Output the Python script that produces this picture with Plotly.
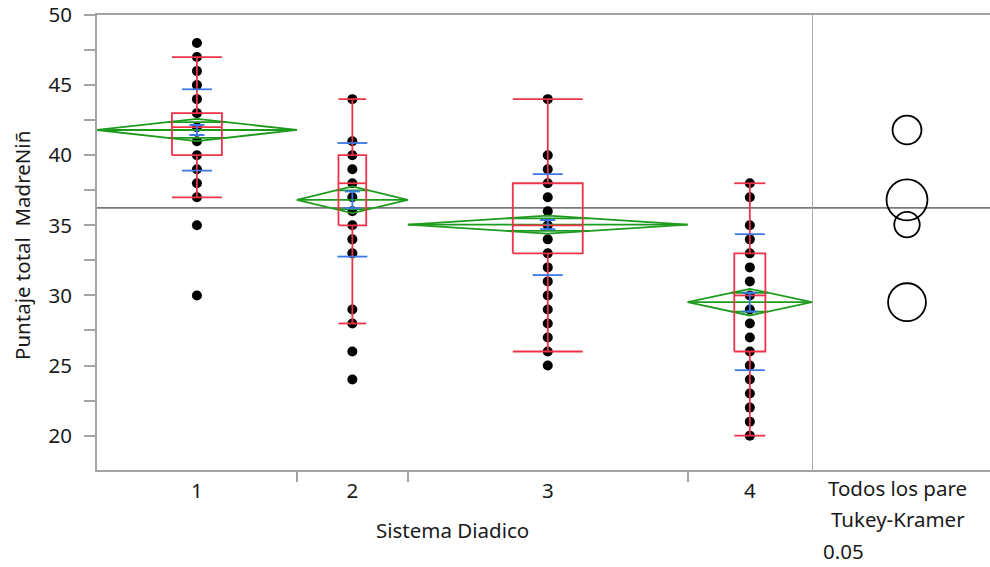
import plotly.graph_objects as go

# ---------------- data ----------------
groups = ["1", "2", "3", "4"]
group_n = [45, 25, 63, 28]          # relative group sizes (widths of the group cells)

g1_values = [48, 47, 46, 45, 44, 43, 42, 41, 40, 39, 38, 37, 35, 30]
g2_values = [44, 41, 40, 39, 38, 37, 36, 35, 34, 33, 29, 28, 26, 24]
g3_values = [44, 40, 39, 38, 37, 36, 35, 34, 33, 32, 31, 30, 29, 28, 27, 26, 25]
g4_values = [38, 37, 35, 34, 33, 32, 31, 30, 29, 28, 27, 26, 25, 24, 23, 22, 21, 20]

box_q1 = [40, 35, 33, 26]
box_median = [42, 38, 35, 30]
box_q3 = [43, 40, 38, 33]
whisker_lo = [37, 28, 26, 20]
whisker_hi = [47, 44, 44, 38]

group_mean = [41.8, 36.82, 35.05, 29.52]
mean_ci = [0.79, 0.95, 0.64, 0.95]
group_sd = [2.9, 4.05, 3.6, 4.85]
group_se = [0.36, 0.6, 0.33, 0.67]
grand_mean = 36.25

circle_radius = [1.03, 1.46, 0.91, 1.35]   # Tukey-Kramer comparison circles (y units)

y_ticks = [20, 25, 30, 35, 40, 45, 50]
y_title = "Puntaje total \u00a0MadreNiñ"
x_title = "Sistema Diadico"
panel_labels = ["Todos los pare", "Tukey-Kramer", "0.05"]

# ---------------- styles ----------------
RED = "#ee3248"
BLUE = "#3c78e6"
GREEN = "#1e9b1e"
AXIS = "#a3a3a3"
MEANLINE = "#7a7a7a"
FONT = "Noto Sans"
FS = 20.5
TXT = "#1a1a1a"
LW = 1.8

W, H = 990, 567
ML, MR, MT, MB = 97, 0, 15, 97
main_px = 812 - ML
panel_px = W - MR - 812
plot_w = W - ML - MR
plot_h = H - MT - MB
dom_split = main_px / plot_w

total_n = sum(group_n)
px_per_unit = main_px / total_n
y_min, y_max = 17.55, 50.0
y_px_per_unit = plot_h / (y_max - y_min)

all_values = [g1_values, g2_values, g3_values, g4_values]

lefts, centers = [], []
acc = 0
for n in group_n:
    lefts.append(acc)
    centers.append(acc + n / 2)
    acc += n
boundaries = [sum(group_n[:i + 1]) for i in range(len(group_n) - 1)]

fig = go.Figure()


def seg(xs, ys, color, width):
    fig.add_trace(go.Scatter(x=xs, y=ys, mode="lines", line=dict(color=color, width=width),
                             hoverinfo="skip", showlegend=False, xaxis="x", yaxis="y"))


# points
for i, vals in enumerate(all_values):
    fig.add_trace(go.Scatter(x=[centers[i]] * len(vals), y=vals, mode="markers",
                             marker=dict(color="black", size=10),
                             showlegend=False, hoverinfo="y", xaxis="x", yaxis="y"))

sd_half = 15 / px_per_unit
se_half = 7.5 / px_per_unit

for i in range(len(groups)):
    c = centers[i]
    L = lefts[i]
    n = group_n[i]
    R = L + n
    m = group_mean[i]
    ci = mean_ci[i]
    # mean diamond
    seg([L, c, R, c, L], [m, m + ci, m, m - ci, m], GREEN, LW)
    seg([L, R], [m, m], GREEN, LW)
    ov = ci / 2 ** 0.5
    half = (n / 2) * (1 - 1 / 2 ** 0.5)
    seg([c - half, c + half], [m + ov, m + ov], GREEN, LW)
    seg([c - half, c + half], [m - ov, m - ov], GREEN, LW)
    # box plot
    bh = n / 8
    seg([c - bh, c + bh, c + bh, c - bh, c - bh],
        [box_q1[i], box_q1[i], box_q3[i], box_q3[i], box_q1[i]], RED, LW)
    seg([c - bh, c + bh], [box_median[i], box_median[i]], RED, LW)
    seg([c, c], [box_q3[i], whisker_hi[i]], RED, LW)
    seg([c, c], [box_q1[i], whisker_lo[i]], RED, LW)
    seg([c - bh, c + bh], [whisker_hi[i], whisker_hi[i]], RED, LW)
    seg([c - bh, c + bh], [whisker_lo[i], whisker_lo[i]], RED, LW)
    # std dev lines
    seg([c - sd_half, c + sd_half], [m + group_sd[i]] * 2, BLUE, LW)
    seg([c - sd_half, c + sd_half], [m - group_sd[i]] * 2, BLUE, LW)
    # mean error bars
    seg([c - se_half, c + se_half], [m + group_se[i]] * 2, BLUE, 2)
    seg([c - se_half, c + se_half], [m - group_se[i]] * 2, BLUE, 2)
    seg([c, c], [m - group_se[i], m + group_se[i]], BLUE, LW)

# dummy trace on the panel axis so it renders
fig.add_trace(go.Scatter(x=[panel_px / 2], y=[grand_mean], mode="markers",
                         marker=dict(size=1, color="rgba(0,0,0,0)"),
                         showlegend=False, hoverinfo="skip", xaxis="x2", yaxis="y"))

shapes = []
shapes.append(dict(type="line", xref="paper", yref="y", x0=0, x1=1, y0=grand_mean, y1=grand_mean,
                   line=dict(color=MEANLINE, width=1.8), layer="below"))
shapes.append(dict(type="line", xref="x2", yref="paper", x0=0, x1=0, y0=0, y1=1,
                   line=dict(color=AXIS, width=1.8)))
cx = 95
for i in range(len(groups)):
    r = circle_radius[i]
    rx = r * y_px_per_unit
    shapes.append(dict(type="circle", xref="x2", yref="y",
                       x0=cx - rx, x1=cx + rx,
                       y0=group_mean[i] - r, y1=group_mean[i] + r,
                       line=dict(color="black", width=1.8)))


def px_x(px):
    return (px - ML) / plot_w


def px_y(py):
    return (H - MB - py) / plot_h


tf = dict(family=FONT, size=FS, color=TXT)
annotations = [
    dict(text=panel_labels[0], xref="paper", yref="paper", x=px_x(897), y=px_y(488),
         xanchor="center", yanchor="middle", showarrow=False, font=tf),
    dict(text=panel_labels[1], xref="paper", yref="paper", x=px_x(898), y=px_y(519),
         xanchor="center", yanchor="middle", showarrow=False, font=tf),
    dict(text=panel_labels[2], xref="paper", yref="paper", x=px_x(821), y=px_y(551),
         xanchor="left", yanchor="middle", showarrow=False, font=tf),
    dict(text=x_title, xref="paper", yref="paper", x=px_x(452), y=px_y(530),
         xanchor="center", yanchor="middle", showarrow=False, font=tf),
    dict(text=y_title, xref="paper", yref="paper", x=px_x(22), y=px_y(246), textangle=-90,
         xanchor="center", yanchor="middle", showarrow=False, font=tf),
]

fig.update_layout(
    width=W, height=H,
    margin=dict(l=ML, r=MR, t=MT, b=MB, pad=0),
    paper_bgcolor="white", plot_bgcolor="white",
    font=tf,
    showlegend=False,
    shapes=shapes,
    annotations=annotations,
    xaxis=dict(domain=[0, dom_split], range=[0, total_n], anchor="y", automargin=False,
               tickmode="array", tickvals=centers, ticktext=groups,
               ticks="outside", ticklen=1, tickcolor="rgba(0,0,0,0)",
               minor=dict(tickmode="array", tickvals=boundaries, ticks="outside",
                          ticklen=10, tickcolor=AXIS, tickwidth=1.8),
               showline=True, linecolor=AXIS, linewidth=1.8, mirror=True,
               showgrid=False, zeroline=False, tickfont=tf),
    xaxis2=dict(domain=[dom_split, 1], range=[0, panel_px], anchor="y", automargin=False,
                showticklabels=False, ticks="", showline=True, linecolor=AXIS, linewidth=1.8,
                mirror=True, showgrid=False, zeroline=False),
    yaxis=dict(range=[y_min, y_max], tickmode="array", tickvals=y_ticks, automargin=False,
               ticks="outside", ticklen=11, tickcolor=AXIS, tickwidth=1.8,
               minor=dict(dtick=2.5, tick0=0, ticks="outside", ticklen=11, tickcolor=AXIS, tickwidth=1.8),
               showline=True, linecolor=AXIS, linewidth=1.8, ticklabelstandoff=8,
               showgrid=False, zeroline=False, tickfont=tf),
)

fig.write_html("out.html", config={"displayModeBar": False},
               post_script="document.body.style.margin='0';")
